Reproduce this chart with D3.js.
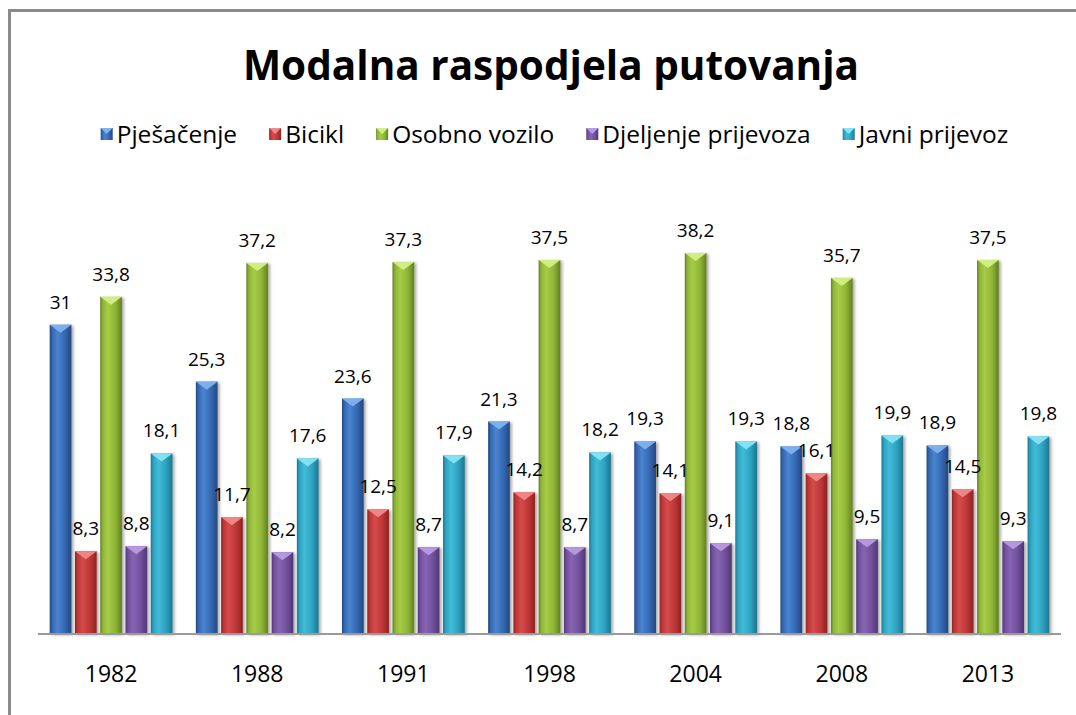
<!DOCTYPE html>
<html><head><meta charset="utf-8">
<script src="https://cdn.jsdelivr.net/npm/d3@7"></script>
<style>body{margin:0;background:#fff}svg{display:block}</style>
</head><body><svg id="c" width="1076" height="715"></svg>
<script>
const title = "Modalna raspodjela putovanja";
const years = ["1982","1988","1991","1998","2004","2008","2013"];
const seriesNames = ["Pješačenje","Bicikl","Osobno vozilo","Djeljenje prijevoza","Javni prijevoz"];
const pjesacenje = [31, 25.3, 23.6, 21.3, 19.3, 18.8, 18.9];
const bicikl = [8.3, 11.7, 12.5, 14.2, 14.1, 16.1, 14.5];
const osobnoVozilo = [33.8, 37.2, 37.3, 37.5, 38.2, 35.7, 37.5];
const djeljenje = [8.8, 8.2, 8.7, 8.7, 9.1, 9.5, 9.3];
const javni = [18.1, 17.6, 17.9, 18.2, 19.3, 19.9, 19.8];
const seriesValues = [pjesacenje, bicikl, osobnoVozilo, djeljenje, javni];
// [edge dark, mid, light, top cap]
const palette = [
  ["#24487d","#3468b3","#4a84cf","#7fb2ee"],
  ["#8e2424","#be3636","#d44c4c","#f08a8a"],
  ["#627f22","#8fb536","#a6cc48","#d3ef86"],
  ["#4f3675","#71509c","#8765b3","#b89be0"],
  ["#1d7690","#2ea2c0","#41bcd8","#86e4f5"]
];

const svg = d3.select("#c");
const defs = svg.append("defs");
palette.forEach((p,i)=>{
  const g = defs.append("linearGradient").attr("id","g"+i).attr("x1","0").attr("x2","1").attr("y1","0").attr("y2","0");
  [[0,p[0]],[0.12,p[1]],[0.35,p[2]],[0.7,p[1]],[1,p[0]]].forEach(s=>g.append("stop").attr("offset",s[0]).attr("stop-color",s[1]));
});
const f = defs.append("filter").attr("id","sh").attr("x","-30%").attr("y","-10%").attr("width","160%").attr("height","120%");
f.append("feGaussianBlur").attr("in","SourceAlpha").attr("stdDeviation",1.5);
f.append("feOffset").attr("dx",2).attr("dy",1).attr("result","ob");
f.append("feComponentTransfer").append("feFuncA").attr("type","linear").attr("slope",0.35);
const m = f.append("feMerge"); m.append("feMergeNode"); m.append("feMergeNode").attr("in","SourceGraphic");

// frame
svg.append("rect").attr("x",9.5).attr("y",10.5).attr("width",1100).attr("height",800)
  .attr("fill","none").attr("stroke","#8a8a8a").attr("stroke-width",3);

// title
svg.append("text").attr("x",551).attr("y",80).attr("text-anchor","middle")
  .attr("font-family","Open Sans").attr("font-weight","bold").attr("font-size",40.5).attr("fill","#000").text(title);

const x0 = d3.scaleBand().domain(years).range([38,1061]).paddingInner(0.16).paddingOuter(0.08);
const x1 = d3.scaleBand().domain(seriesNames).range([0,x0.bandwidth()]).paddingInner(0.14);
const y = d3.scaleLinear().domain([0,40]).range([634,235]);

const fmt = v => String(v).replace(".",",");

const groups = svg.append("g").selectAll("g").data(years).join("g")
  .attr("transform",d=>`translate(${x0(d)},0)`);

seriesNames.forEach((s,si)=>{
  groups.each(function(yr,yi){
    const v = seriesValues[si][yi];
    const g = d3.select(this);
    const bx = x1(s), bw = x1.bandwidth(), top = y(v);
    g.append("rect").attr("x",bx).attr("y",top).attr("width",bw).attr("height",y(0)-top)
      .attr("fill",`url(#g${si})`).attr("filter","url(#sh)");
    g.append("path").attr("d",`M${bx},${top}L${bx+bw},${top}L${bx+bw/2},${top+8}Z`)
      .attr("fill",palette[si][3]).attr("opacity",0.95);
  });
});

// data labels
seriesNames.forEach((s,si)=>{
  groups.append("text").attr("x",x1(s)+x1.bandwidth()/2)
    .attr("y",(d,i)=>y(seriesValues[si][i])-16)
    .attr("text-anchor","middle").attr("font-family","Open Sans").attr("font-size",19).attr("fill","#000")
    .text((d,i)=>fmt(seriesValues[si][i]));
});

// axis
const ax = svg.append("g").attr("transform","translate(0,634)")
  .call(d3.axisBottom(x0).tickSize(0).tickPadding(32));
ax.select(".domain").attr("stroke","#9a9a9a").attr("stroke-width",2).attr("d","M38,0H1061");
ax.selectAll("text").attr("font-family","Open Sans").attr("font-size",23).attr("fill","#000");

// legend
const lg = svg.append("g");
const items = lg.selectAll("g").data(seriesNames).join("g");
items.append("rect").attr("x",0).attr("y",-6).attr("width",12).attr("height",12).attr("fill",(d,i)=>`url(#g${i})`);
items.append("path").attr("d","M0,-6L12,-6L6,0Z").attr("fill",(d,i)=>palette[i][3]);
items.append("text").attr("x",16).attr("y",8.5).attr("font-family","Open Sans").attr("font-size",24.5).attr("fill","#000").text(d=>d);
let widths = [];
items.each(function(){ widths.push(this.querySelector("text").getComputedTextLength()+16); });
const gap = 32;
const total = d3.sum(widths)+gap*(widths.length-1);
let cx = 554.5 - total/2;
items.each(function(d,i){ d3.select(this).attr("transform",`translate(${cx},134)`); cx += widths[i]+gap; });
</script></body></html>
